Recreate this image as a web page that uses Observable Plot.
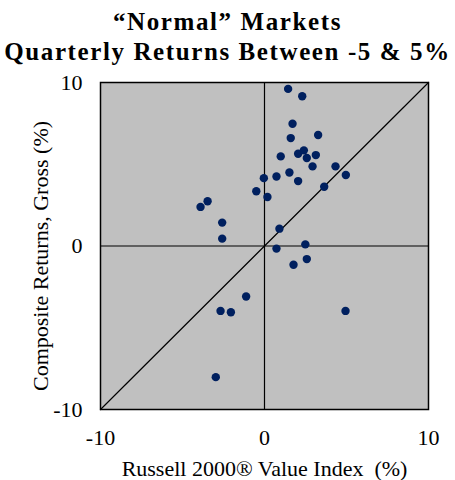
<!DOCTYPE html>
<html>
<head>
<meta charset="utf-8">
<script src="https://cdn.jsdelivr.net/npm/d3@7"></script>
<script src="https://cdn.jsdelivr.net/npm/@observablehq/plot@0.6"></script>
<style>
  html, body { margin: 0; padding: 0; background: #fff; }
  #title { width: 455px; height: 70px; box-sizing: border-box; padding-top: 7px;
    font-family: "Liberation Serif", serif; font-weight: bold; font-size: 25px;
    line-height: 30px; text-align: center; letter-spacing: 1.6px; color: #000; white-space: nowrap; }
</style>
</head>
<body>
<div id="title"><div>“Normal” Markets</div><div>Quarterly Returns Between -5 &amp; 5%</div></div>
<div id="chart"></div>
<script>
const titleLines = ["“Normal” Markets", "Quarterly Returns Between -5 & 5%"];
const xLabel = "Russell 2000® Value Index\u00a0 (%)";
const yLabel = "Composite Returns, Gross (%)";
const ticks = [-10, 0, 10];
// Russell 2000 Value quarterly return (%)
const russell = [-0.04, -0.5, 0.18, -3.47, -3.9, -2.58, -2.58, 1.44, 2.3, 1.71, 1.6, 3.27, 0.99, 2.05, 2.4, 2.58, 3.13, 2.93, 4.33, 4.96, 1.52, 2.05, 0.73, 3.64, 0.91, 0.73, 2.49, 2.58, 1.77, 4.94, -1.12, -2.68, -2.05, -2.97];
// Composite gross quarterly return (%)
const composite = [4.15, 3.35, 3.0, 2.74, 2.39, 1.43, 0.45, 9.61, 9.16, 7.48, 6.6, 6.79, 5.48, 5.64, 5.85, 5.38, 5.56, 4.87, 4.87, 4.34, 4.5, 3.97, 4.25, 3.62, 1.06, -0.16, 0.1, -0.8, -1.15, -3.97, -3.09, -3.97, -4.05, -8.02];
const domain = [-10, 10];

const points = russell.map((x, i) => ({x, y: composite[i]}));

const chart = Plot.plot({
  width: 455,
  height: 410,
  marginTop: 12,
  marginBottom: 71,
  marginLeft: 100,
  marginRight: 27,
  style: {fontFamily: "Liberation Serif, serif", fontSize: "22px", color: "#000", background: "#fff", overflow: "visible"},
  x: {domain, ticks, tickSize: 0, tickPadding: 20, label: null, tickFormat: d => String(d)},
  y: {domain, ticks, tickSize: 0, tickPadding: 18, label: null, tickFormat: d => String(d)},
  marks: [
    Plot.frame({fill: "#C0C0C0"}),
    Plot.ruleX([0], {stroke: "#000", strokeWidth: 1.2}),
    Plot.ruleY([0], {stroke: "#000", strokeWidth: 1.2}),
    Plot.line(domain, {x: d => d, y: d => d, stroke: "#000", strokeWidth: 1.2}),
    Plot.dot(points, {x: "x", y: "y", r: 4.2, fill: "#00205F", stroke: "none"}),
    Plot.frame({stroke: "#000", strokeWidth: 1.5}),
    Plot.text([xLabel], {frameAnchor: "bottom", lineAnchor: "bottom", textAnchor: "middle", dy: 66, fontSize: 22, text: d => d}),
    Plot.text([yLabel], {frameAnchor: "left", lineAnchor: "bottom", textAnchor: "middle", rotate: -90, dx: -53, dy: 10, fontSize: 22, text: d => d})
  ]
});
document.getElementById("chart").appendChild(chart);
</script>
</body>
</html>
